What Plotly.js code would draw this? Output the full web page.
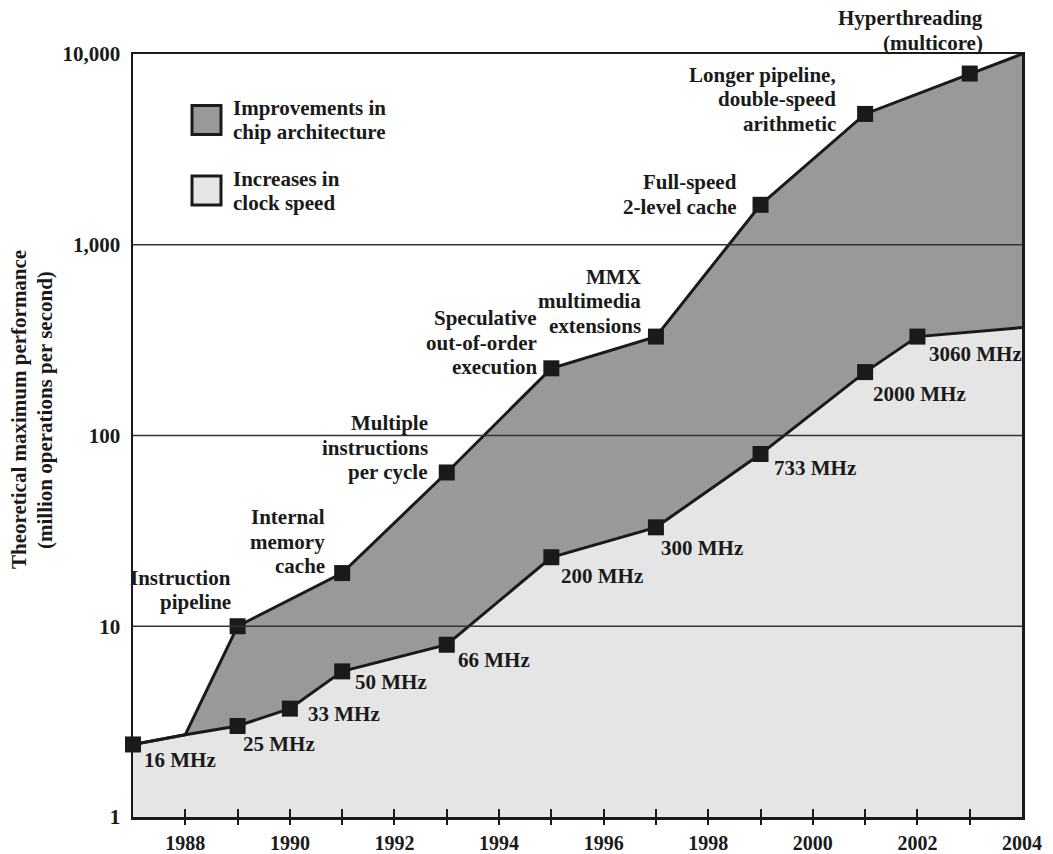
<!DOCTYPE html>
<html>
<head>
<meta charset="utf-8">
<script src="https://cdn.plot.ly/plotly-3.0.1.min.js"></script>
<style>
  html, body { margin: 0; padding: 0; background: #ffffff; }
  #chart { width: 1053px; height: 854px; }
</style>
</head>
<body>
<div id="chart"></div>
<script>
// ---------- data ----------
const clockYears  = [1987, 1988, 1989, 1990, 1991, 1993, 1995, 1997, 1999, 2001, 2002, 2004];
const clockPerf   = [2.4, 2.7, 3.0, 3.7, 5.8, 8.0, 23, 33, 80, 215, 330, 368];
const clockLabels = ["16 MHz", "", "25 MHz", "33 MHz", "50 MHz", "66 MHz", "200 MHz", "300 MHz", "733 MHz", "2000 MHz", "3060 MHz", ""];

const archYears  = [1987, 1988, 1989, 1991, 1993, 1995, 1997, 1999, 2001, 2003, 2004];
const archPerf   = [2.4, 2.7, 10, 19, 64, 225, 330, 1620, 4850, 7900, 10000];
const archLabels = ["", "", "Instruction<br>pipeline", "Internal<br>memory<br>cache",
                    "Multiple<br>instructions<br>per cycle", "Speculative<br>out-of-order<br>execution",
                    "MMX<br>multimedia<br>extensions", "Full-speed<br>2-level cache",
                    "Longer pipeline,<br>double-speed<br>arithmetic", "Hyperthreading<br>(multicore)", ""];

const tickYears  = [1988, 1989, 1990, 1991, 1992, 1993, 1994, 1995, 1996, 1997, 1998, 1999, 2000, 2001, 2002, 2003];
const labelYears = [1988, 1990, 1992, 1994, 1996, 1998, 2000, 2002, 2004];
const labelTexts = ["1988", "1990", "1992", "1994", "1996", "1998", "2000", "2002", "2004"];

const yTickVals   = [1, 10, 100, 1000, 10000];
const yTickLabels = ["1", "10", "100", "1,000", "10,000"];
const gridValues  = [10, 100, 1000];

const legendNames = ["Improvements in<br>chip architecture", "Increases in<br>clock speed"];
const yTitleLines = ["Theoretical maximum performance", "(million operations per second)"];

// ---------- styling (label offsets in pixels: [dx, dy]) ----------
const clockLabelOffsets = {
  "16 MHz": [9, 16], "25 MHz": [3, 18], "33 MHz": [16, 5], "50 MHz": [11, 11], "66 MHz": [9, 15],
  "200 MHz": [8, 19], "300 MHz": [3, 21], "733 MHz": [11, 14], "2000 MHz": [6, 22], "3060 MHz": [10, 17]
};
const archLabelOffsets = [null, null, [-5, -24], [-15, -7], [-17, 0], [-12, -1], [-13, -11], [-22, 2], [-27, 10], [15, -31], null];

const FONT = "Liberation Serif, Times New Roman, serif";
const INK = "#1a1a1a";
const DARK = "#999999";
const LIGHT = "#e5e5e5";
const LH = 24.5;
const LABEL_SIZE = 21;

const span = [clockYears[0], clockYears[clockYears.length - 1]];
const traces = [
  { x: span, y: [1, 1], mode: "lines", line: { width: 0 }, showlegend: false, hoverinfo: "skip" },
  { x: clockYears, y: clockPerf, mode: "lines", fill: "tonexty", fillcolor: LIGHT,
    line: { color: INK, width: 3 }, name: "Increases in clock speed", showlegend: false },
  { x: archYears, y: archPerf, mode: "lines", fill: "tonexty", fillcolor: DARK,
    line: { color: INK, width: 3 }, name: "Improvements in chip architecture", showlegend: false },
  { x: clockYears.filter((_, i) => clockLabels[i]), y: clockPerf.filter((_, i) => clockLabels[i]),
    mode: "markers", cliponaxis: false, marker: { symbol: "square", size: 16, color: INK },
    showlegend: false, hoverinfo: "skip" },
  { x: archYears.filter((_, i) => archLabels[i]), y: archPerf.filter((_, i) => archLabels[i]),
    mode: "markers", cliponaxis: false, marker: { symbol: "square", size: 16, color: INK },
    showlegend: false, hoverinfo: "skip" },
  { x: span, y: [1, 1], xaxis: "x2", mode: "lines", line: { width: 0 }, showlegend: false, hoverinfo: "skip" },
  { x: span, y: [1, 1], xaxis: "x3", mode: "lines", line: { width: 0 }, showlegend: false, hoverinfo: "skip" }
];

const labelFont = { family: FONT, size: LABEL_SIZE, color: INK, weight: "bold" };
const annotations = [];
clockLabels.forEach((t, i) => {
  if (!t) return;
  const o = clockLabelOffsets[t];
  annotations.push({ x: clockYears[i], y: Math.log10(clockPerf[i]), xref: "x", yref: "y", text: t,
    showarrow: false, xanchor: "left", yanchor: "middle", xshift: o[0], yshift: -o[1], font: labelFont });
});
archLabels.forEach((t, i) => {
  if (!t) return;
  const o = archLabelOffsets[i];
  const lines = t.split("<br>");
  const n = lines.length;
  lines.forEach((line, k) => {
    const centre = o[1] - (n - 1 - k) * LH;
    annotations.push({ x: archYears[i], y: Math.log10(archPerf[i]), xref: "x", yref: "y", text: line,
      showarrow: false, xanchor: "right", yanchor: "middle", align: "right",
      xshift: o[0], yshift: -centre, font: labelFont });
  });
});
const PLOT_L = 133, PLOT_W = 889, PLOT_B = 817, PLOT_H = 763;
const px = v => (v - PLOT_L) / PLOT_W;
const py = v => (PLOT_B - v) / PLOT_H;
const legendRows = [120, 190.5];
legendNames.forEach((t, i) => {
  t.split("<br>").forEach((line, k) => {
    annotations.push({ x: px(231), y: py(legendRows[i] + (k - 0.5) * 24), xref: "paper", yref: "paper",
      text: line, showarrow: false, xanchor: "left", yanchor: "middle", align: "left", font: labelFont });
  });
});
const yTitleX = [19, 45];
yTitleLines.forEach((line, k) => {
  annotations.push({ x: px(yTitleX[k]), y: py(410), xref: "paper", yref: "paper", text: line,
    textangle: -90, showarrow: false, xanchor: "center", yanchor: "middle", font: labelFont });
});

const shapes = [];
gridValues.forEach(v => shapes.push({ type: "line", xref: "paper", yref: "y", x0: 0, x1: 1,
  y0: v, y1: v, line: { color: "#333333", width: 1.4 }, layer: "above" }));
const legendFills = [DARK, LIGHT];
legendRows.forEach((r, i) => shapes.push({ type: "rect", xref: "paper", yref: "paper",
  x0: px(192), x1: px(221), y0: py(r - 14.5), y1: py(r + 14.5),
  fillcolor: legendFills[i], line: { color: INK, width: 3 } }));

const tickFont = { family: FONT, size: 20, color: INK, weight: "bold" };
const layout = {
  width: 1053, height: 854,
  margin: { l: 133, r: 31, t: 54, b: 37, pad: 0 },
  paper_bgcolor: "#ffffff", plot_bgcolor: "#ffffff",
  font: { family: FONT, size: 20, color: INK, weight: "bold" },
  showlegend: false,
  xaxis: {
    range: [1987, 2004], tickmode: "array", tickvals: labelYears, ticktext: labelTexts,
    ticks: "", showgrid: false, zeroline: false, showline: true, linewidth: 2.5, linecolor: INK, mirror: true,
    tickfont: tickFont, ticklabelstandoff: 6, layer: "above traces", fixedrange: true
  },
  xaxis2: {
    overlaying: "x", matches: "x", anchor: "y", side: "bottom",
    tickmode: "array", tickvals: tickYears, showticklabels: false,
    ticks: "inside", ticklen: 8, tickwidth: 2, tickcolor: INK,
    showgrid: false, zeroline: false, showline: false, layer: "above traces"
  },
  xaxis3: {
    overlaying: "x", matches: "x", anchor: "y", side: "bottom",
    tickmode: "array", tickvals: tickYears, showticklabels: false,
    ticks: "outside", ticklen: 7, tickwidth: 2, tickcolor: INK,
    showgrid: false, zeroline: false, showline: false, layer: "above traces"
  },
  yaxis: {
    type: "log", range: [0, 4], tickmode: "array", tickvals: yTickVals, ticktext: yTickLabels,
    ticks: "", showgrid: false, zeroline: false, showline: true, linewidth: 2.5, linecolor: INK, mirror: true,
    tickfont: { family: FONT, size: 21, color: INK, weight: "bold" }, ticklabelstandoff: 6,
    layer: "above traces", fixedrange: true
  },
  annotations: annotations,
  shapes: shapes
};

Plotly.newPlot("chart", traces, layout, { displayModeBar: false, staticPlot: true });
</script>
</body>
</html>
